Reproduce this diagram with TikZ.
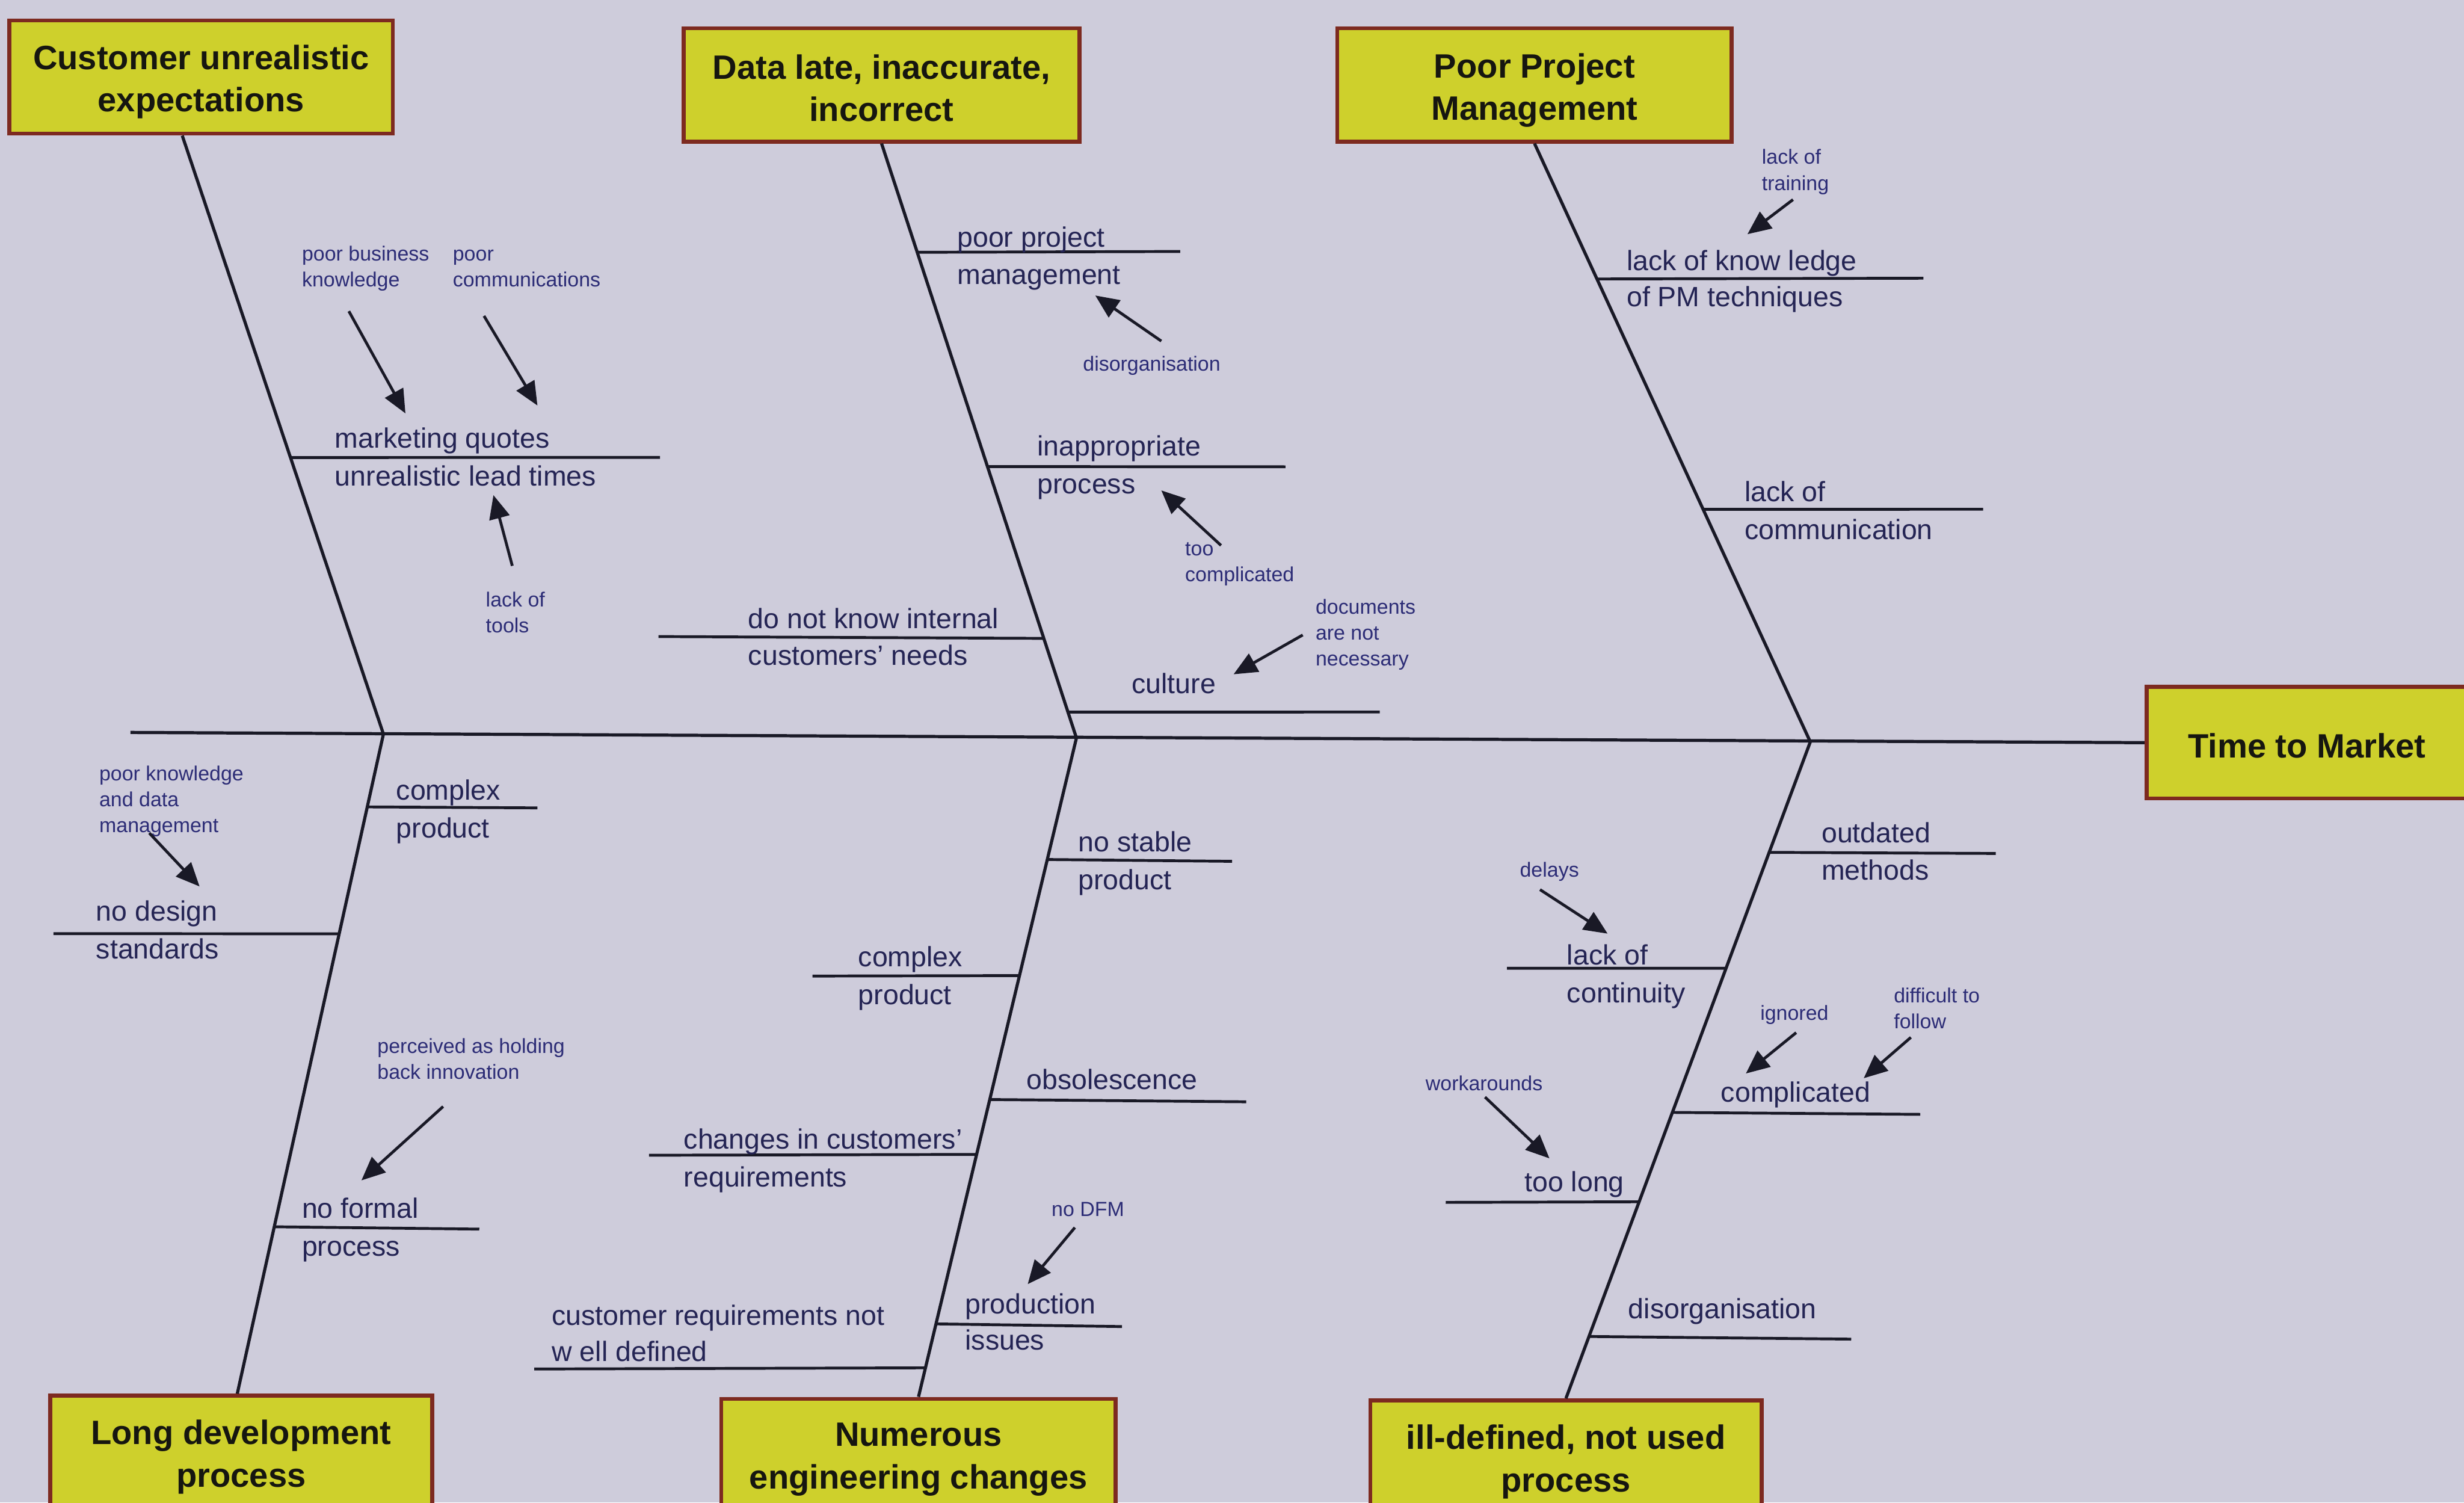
\documentclass[tikz,border=0pt]{standalone}
\usepackage{fontspec}
\setmainfont{Liberation Sans}
\usetikzlibrary{arrows.meta}

\definecolor{paper}{RGB}{206,204,219}
\definecolor{boxfill}{RGB}{206,208,44}
\definecolor{boxedge}{RGB}{125,42,32}
\definecolor{boxtext}{RGB}{22,22,16}
\definecolor{ink}{RGB}{25,25,38}
\definecolor{labelink}{RGB}{36,36,84}
\definecolor{noteink}{RGB}{44,44,118}

\begin{document}
\begin{tikzpicture}[x=1pt,y=-1pt,
  causebox/.style={draw=boxedge, line width=2.6pt, fill=boxfill, inner sep=0pt},
  boxtitle/.style={text=boxtext, font=\fontsize{21.5}{27}\selectfont\bfseries, align=center, inner sep=0pt},
  bone/.style={draw=ink, line width=2pt},
  twig/.style={draw=ink, line width=1.8pt},
  lbl/.style={text=labelink, font=\fontsize{17.8}{22}\selectfont, anchor=base west, inner sep=0pt},
  note/.style={text=noteink, font=\fontsize{13}{16.5}\selectfont, anchor=base west, inner sep=0pt, align=left},
  pointer/.style={draw=ink, line width=1.8pt, -{Triangle[length=15pt,width=13pt]}}]

\fill[paper] (0,0) rectangle (1568,956);
\useasboundingbox (0,0) rectangle (1568,956);
\clip (0,0) rectangle (1568,956);

% ---------- category boxes and effect ----------
\node[causebox, minimum width=244pt, minimum height=72pt] (c1) at (128,49) {};
\node[causebox, minimum width=252pt, minimum height=72pt] (c2) at (561,54) {};
\node[causebox, minimum width=251pt, minimum height=72pt] (c3) at (976.5,54) {};
\node[causebox, minimum width=243pt, minimum height=72pt] (b1) at (153.5,924) {};
\node[causebox, minimum width=251pt, minimum height=72pt] (b2) at (584.5,926) {};
\node[causebox, minimum width=249pt, minimum height=72pt] (b3) at (996.5,927) {};
\node[causebox, minimum width=204pt, minimum height=71pt] (eff) at (1468,472.5) {};

\node[boxtitle] (c1t) at ([yshift=-3pt]c1.center) {Customer unrealistic\\expectations};
\node[boxtitle] (c2t) at ([yshift=-2pt]c2.center) {Data late, inaccurate,\\incorrect};
\node[boxtitle] (c3t) at ([yshift=-3.5pt]c3.center) {Poor Project\\Management};
\node[boxtitle] (b1t) at ([yshift=-3pt]b1.center) {Long development\\process};
\node[boxtitle] (b2t) at ([yshift=-2.5pt]b2.center) {Numerous\\engineering changes};
\node[boxtitle] (b3t) at ([yshift=-3pt]b3.center) {ill-defined, not used\\process};
\node[boxtitle] (efft) at ([yshift=-2pt]eff.center) {Time to Market};

% ---------- spine ----------
\coordinate (tail) at (83,466);
\coordinate (j1) at (244,467);
\coordinate (j2) at (685,469.5);
\coordinate (j3) at (1152,472);
\draw[bone] (tail) -- (eff.west);

% ---------- bones with attachment points ----------
\draw[bone] ([xshift=-12pt]c1.south) -- (j1)
  coordinate[pos=0.538] (a11);
\draw[bone] (c2.south) -- (j2)
  coordinate[pos=0.183] (a21) coordinate[pos=0.5435] (a22)
  coordinate[pos=0.8325] (a23) coordinate[pos=0.9565] (a24);
\draw[bone] (c3.south) -- (j3)
  coordinate[pos=0.2264] (a31) coordinate[pos=0.6113] (a32);
\draw[bone] (j1) -- ([xshift=-2.5pt]b1.north)
  coordinate[pos=0.1105] (d11) coordinate[pos=0.3029] (d12) coordinate[pos=0.747] (d13);
\draw[bone] (j2) -- (b2.north)
  coordinate[pos=0.1845] (d21) coordinate[pos=0.3607] (d22) coordinate[pos=0.5488] (d23)
  coordinate[pos=0.6321] (d24) coordinate[pos=0.8893] (d25) coordinate[pos=0.956] (d26);
\draw[bone] (j3) -- (b3.north)
  coordinate[pos=0.1683] (d31) coordinate[pos=0.3449] (d32) coordinate[pos=0.5644] (d33)
  coordinate[pos=0.7005] (d34) coordinate[pos=0.9057] (d35);

% ---------- customer expectations ----------
\coordinate (e11) at (420,291);
\draw[twig] (a11) -- (e11);
\node[lbl] (t11a) at (213,285) {marketing quotes};
\node[lbl] (t11b) at (213,309) {unrealistic lead times};
\node[note] (n11) at (192,182.5) {poor business\\knowledge};
\node[note] (n12) at (288,182.5) {poor\\communications};
\node[note] (n13) at (309,402.5) {lack of\\tools};
\coordinate (p11s) at (222,198); \coordinate (p11e) at (258,263);
\coordinate (p12s) at (308,201); \coordinate (p12e) at (342,258);
\coordinate (p13s) at (326,360); \coordinate (p13e) at (314,315);
\draw[pointer] (p11s) -- (p11e);
\draw[pointer] (p12s) -- (p12e);
\draw[pointer] (p13s) -- (p13e);

% ---------- data late ----------
\coordinate (e21) at (751,160);
\coordinate (e22) at (818,297);
\coordinate (e23) at (419,405);
\coordinate (e24) at (878,453);
\draw[twig] (a21) -- (e21);
\draw[twig] (a22) -- (e22);
\draw[twig] (e23) -- (a23);
\draw[twig] (a24) -- (e24);
\node[lbl] (t21a) at (609,157) {poor project};
\node[lbl] (t21b) at (609,181) {management};
\node[lbl] (t22a) at (660,290) {inappropriate};
\node[lbl] (t22b) at (660,314) {process};
\node[lbl] (t23a) at (476,400) {do not know internal};
\node[lbl] (t23b) at (476,423) {customers' needs};
\node[lbl] (t24) at (720,441) {culture};
\node[note] (n21) at (689,236) {disorganisation};
\node[note] (n22) at (754,370) {too\\complicated};
\node[note] (n23) at (837,423.5) {documents\\are not\\necessary};
\coordinate (p21s) at (739,217); \coordinate (p21e) at (697,188);
\coordinate (p22s) at (777,347); \coordinate (p22e) at (739,312);
\coordinate (p23s) at (829,404); \coordinate (p23e) at (785,429);
\draw[pointer] (p21s) -- (p21e);
\draw[pointer] (p22s) -- (p22e);
\draw[pointer] (p23s) -- (p23e);

% ---------- project management ----------
\coordinate (e31) at (1224,177);
\coordinate (e32) at (1262,324);
\draw[twig] (a31) -- (e31);
\draw[twig] (a32) -- (e32);
\node[lbl] (t31a) at (1035,172) {lack of know ledge};
\node[lbl] (t31b) at (1035,195) {of PM techniques};
\node[lbl] (t32a) at (1110,319) {lack of};
\node[lbl] (t32b) at (1110,343) {communication};
\node[note] (n31) at (1121,121) {lack of\\training};
\coordinate (p31s) at (1141,127); \coordinate (p31e) at (1112,149);
\draw[pointer] (p31s) -- (p31e);

% ---------- long development ----------
\coordinate (f11) at (342,514);
\coordinate (f12) at (34,594);
\coordinate (f13) at (305,782);
\draw[twig] (d11) -- (f11);
\draw[twig] (f12) -- (d12);
\draw[twig] (d13) -- (f13);
\node[lbl] (u11a) at (252,509) {complex};
\node[lbl] (u11b) at (252,533) {product};
\node[lbl] (u12a) at (61,586) {no design};
\node[lbl] (u12b) at (61,610) {standards};
\node[lbl] (u13a) at (192,775) {no formal};
\node[lbl] (u13b) at (192,799) {process};
\node[note] (m11) at (63,529.5) {poor knowledge\\and data\\management};
\node[note] (m12) at (240,686.5) {perceived as holding\\back innovation};
\coordinate (q11s) at (95,530); \coordinate (q11e) at (127,564);
\coordinate (q12s) at (282,704); \coordinate (q12e) at (230,751);
\draw[pointer] (q11s) -- (q11e);
\draw[pointer] (q12s) -- (q12e);

% ---------- engineering changes ----------
\coordinate (f21) at (784,548);
\coordinate (f22) at (517,621);
\coordinate (f23) at (793,701);
\coordinate (f24) at (413,735);
\coordinate (f25) at (714,844);
\coordinate (f26) at (340,871);
\draw[twig] (d21) -- (f21);
\draw[twig] (f22) -- (d22);
\draw[twig] (d23) -- (f23);
\draw[twig] (f24) -- (d24);
\draw[twig] (d25) -- (f25);
\draw[twig] (f26) -- (d26);
\node[lbl] (u21a) at (686,542) {no stable};
\node[lbl] (u21b) at (686,566) {product};
\node[lbl] (u22a) at (546,615) {complex};
\node[lbl] (u22b) at (546,639) {product};
\node[lbl] (u23) at (653,693) {obsolescence};
\node[lbl] (u24a) at (435,731) {changes in customers'};
\node[lbl] (u24b) at (435,755) {requirements};
\node[lbl] (u25a) at (614,836) {production};
\node[lbl] (u25b) at (614,859) {issues};
\node[lbl] (u26a) at (351,843) {customer requirements not};
\node[lbl] (u26b) at (351,866) {w ell defined};
\node[note] (m21) at (669,774) {no DFM};
\coordinate (q21s) at (684,781); \coordinate (q21e) at (654,817);
\draw[pointer] (q21s) -- (q21e);

% ---------- ill-defined process ----------
\coordinate (f31) at (1270,543);
\coordinate (f32) at (959,616);
\coordinate (f33) at (1222,709);
\coordinate (f34) at (920,765);
\coordinate (f35) at (1178,852);
\draw[twig] (d31) -- (f31);
\draw[twig] (f32) -- (d32);
\draw[twig] (d33) -- (f33);
\draw[twig] (f34) -- (d34);
\draw[twig] (d35) -- (f35);
\node[lbl] (u31a) at (1159,536) {outdated};
\node[lbl] (u31b) at (1159,560) {methods};
\node[lbl] (u32a) at (997,614) {lack of};
\node[lbl] (u32b) at (997,638) {continuity};
\node[lbl] (u33) at (1095,701) {complicated};
\node[lbl] (u34) at (970,758) {too long};
\node[lbl] (u35) at (1036,839) {disorganisation};
\node[note] (m31) at (967,558) {delays};
\node[note] (m32) at (1120,649) {ignored};
\node[note] (m33) at (1205,654.5) {difficult to\\follow};
\node[note] (m34) at (907,694) {workarounds};
\coordinate (q31s) at (980,566); \coordinate (q31e) at (1023,594);
\coordinate (q32s) at (1143,657); \coordinate (q32e) at (1111,683);
\coordinate (q33s) at (1216,660); \coordinate (q33e) at (1186,686);
\coordinate (q34s) at (945,698); \coordinate (q34e) at (986,737);
\draw[pointer] (q31s) -- (q31e);
\draw[pointer] (q32s) -- (q32e);
\draw[pointer] (q33s) -- (q33e);
\draw[pointer] (q34s) -- (q34e);

\end{tikzpicture}
\end{document}
